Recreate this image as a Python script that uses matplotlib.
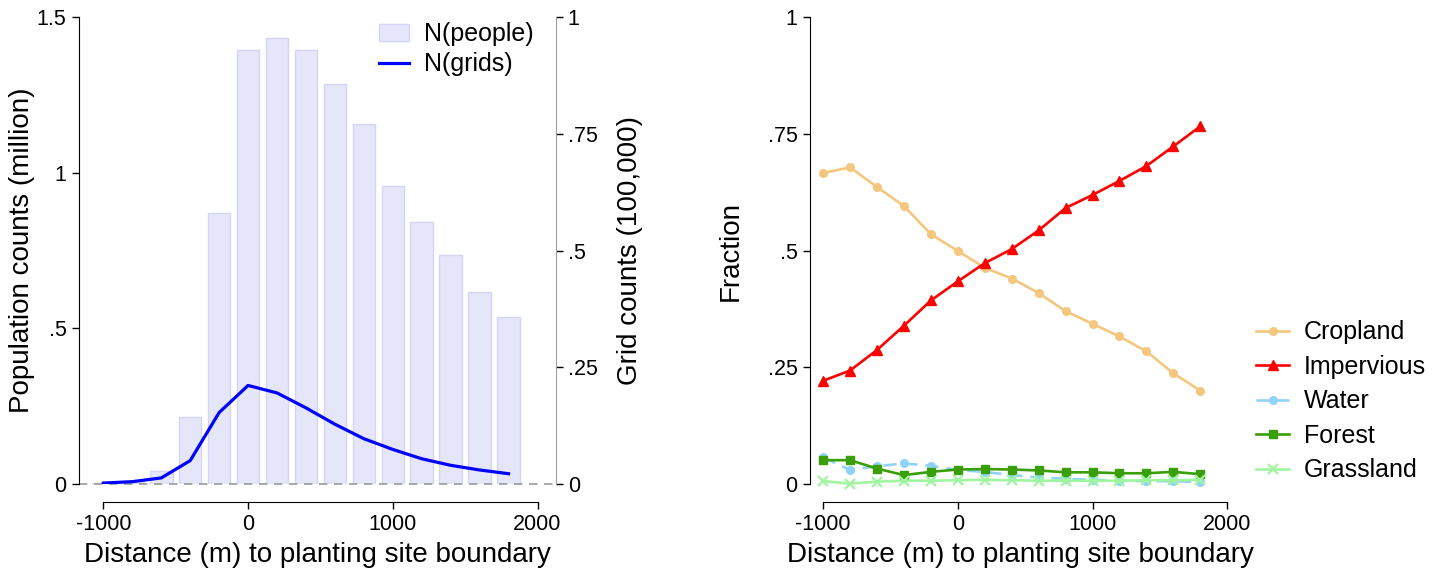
import matplotlib
matplotlib.use("Agg")
import matplotlib.pyplot as plt
from matplotlib.ticker import FixedLocator, FixedFormatter

plt.rcParams['font.family'] = ['Liberation Sans', 'DejaVu Sans']

# distance bins (m)
dist = [-1000, -800, -600, -400, -200, 0, 200, 400, 600, 800, 1000, 1200, 1400, 1600, 1800]

# left panel
people = [0.003, 0.008, 0.043, 0.215, 0.869, 1.395, 1.433, 1.395, 1.285, 1.157,
          0.958, 0.843, 0.734, 0.616, 0.536]            # million
grids = [0.002, 0.005, 0.013, 0.050, 0.153, 0.211, 0.195, 0.163, 0.128, 0.097,
         0.074, 0.054, 0.040, 0.030, 0.022]             # 100,000

# right panel (fractions)
cropland = [0.666, 0.678, 0.636, 0.595, 0.535, 0.499, 0.463, 0.440, 0.409, 0.370,
            0.343, 0.316, 0.284, 0.237, 0.200]
impervious = [0.221, 0.243, 0.287, 0.339, 0.393, 0.434, 0.473, 0.503, 0.543, 0.591,
              0.619, 0.649, 0.681, 0.723, 0.766]
water = [0.057, 0.030, 0.038, 0.044, 0.039, 0.030, 0.026, 0.019, 0.014, 0.011,
         0.009, 0.007, 0.006, 0.006, 0.004]
forest = [0.051, 0.051, 0.033, 0.019, 0.026, 0.031, 0.032, 0.031, 0.029, 0.025,
          0.025, 0.023, 0.023, 0.026, 0.021]
grassland = [0.006, 0.001, 0.005, 0.007, 0.007, 0.008, 0.009, 0.008, 0.007, 0.007,
             0.007, 0.007, 0.008, 0.008, 0.009]

xticks = [-1000, 0, 1000, 2000]
TICK = 15.5
LAB = 20
LEG = 18


def stata_axis(ax, yticks, ylabels, ylim):
    ax.set_ylim(*ylim)
    ax.spines['top'].set_visible(False)
    ax.spines['right'].set_visible(False)
    ax.spines['bottom'].set_position(('outward', 13))
    ax.spines['bottom'].set_bounds(xticks[0], xticks[-1])
    ax.spines['left'].set_bounds(ylim[0], ylim[1])
    ax.set_xticks(xticks)
    ax.set_xticklabels([str(t) for t in xticks])
    ax.yaxis.set_major_locator(FixedLocator(yticks))
    ax.yaxis.set_major_formatter(FixedFormatter(ylabels))
    ax.tick_params(labelsize=TICK, length=5, width=1, direction='out')
    ax.tick_params(axis='y', pad=4)
    ax.set_xlabel('Distance (m) to planting site boundary', fontsize=LAB, labelpad=5)


fig = plt.figure(figsize=(14.45, 5.69), dpi=100)

# ---- left: population and grids
ax1 = fig.add_axes([0.0547, 0.1494, 0.3301, 0.8207])
ax1.bar(dist, people, width=156, color='#e6e6fa', edgecolor='#d4d4f6', linewidth=1,
        label='N(people)', zorder=1)
ax1.axhline(0, color='#999999', linestyle=(0, (5, 4)), linewidth=1.2, clip_on=False, zorder=2)
ax1.set_xlim(-1168, 2128)
stata_axis(ax1, [0, 0.5, 1, 1.5], ['0', '.5', '1', '1.5'], (0, 1.5))
ax1.set_ylabel('Population counts (million)', fontsize=LAB, labelpad=1)

ax2 = ax1.twinx()
ax2.plot(dist, grids, color='#0000ff', linewidth=2.3, label='N(grids)', zorder=3)
ax2.set_ylim(0, 1)
ax2.spines['top'].set_visible(False)
ax2.spines['left'].set_visible(False)
ax2.spines['bottom'].set_visible(False)
ax2.spines['right'].set_color('#a0a0a0')
ax2.spines['right'].set_bounds(0, 1)
ax2.yaxis.set_major_locator(FixedLocator([0, 0.25, 0.5, 0.75, 1]))
ax2.yaxis.set_major_formatter(FixedFormatter(['0', '.25', '.5', '.75', '1']))
ax2.tick_params(labelsize=TICK, length=5, width=1)
ax2.set_ylabel('Grid counts (100,000)', fontsize=LAB, labelpad=14)

h1, l1 = ax1.get_legend_handles_labels()
h2, l2 = ax2.get_legend_handles_labels()
ax2.legend(h1 + h2, l1 + l2, loc='upper right', bbox_to_anchor=(1.0, 1.037),
           frameon=False, fontsize=LEG, handlelength=1.2, handletextpad=0.6,
           labelspacing=0.25)

# ---- right: land cover fractions
ax3 = fig.add_axes([0.5606, 0.1494, 0.2915, 0.8207])
lw, ms = 1.9, 5.5
ax3.plot(dist, cropland, color='#f5c67d', marker='o', linewidth=lw, markersize=ms, label='Cropland')
ax3.plot(dist, impervious, color='#ff0000', marker='^', linewidth=lw, markersize=ms + 1, label='Impervious')
ax3.plot(dist, water, color='#8fd3f8', marker='o', linestyle=(0, (5, 3)), linewidth=lw,
         markersize=ms, label='Water')
ax3.plot(dist, forest, color='#3a9e08', marker='s', linewidth=lw, markersize=ms, label='Forest')
ax3.plot(dist, grassland, color='#a0f5a0', marker='x', linewidth=lw, markersize=ms + 1,
         markeredgewidth=1.6, label='Grassland')
ax3.set_xlim(-1097, 2030)
stata_axis(ax3, [0, 0.25, 0.5, 0.75, 1], ['0', '.25', '.5', '.75', '1'], (0, 1))
for ln in ax3.lines:
    ln.set_clip_on(False)
ax3.set_ylabel('Fraction', fontsize=LAB, labelpad=17)
ax3.legend(loc='center left', bbox_to_anchor=(1.006, 0.177), frameon=False, fontsize=LEG,
           handlelength=1.3, handletextpad=0.6, labelspacing=0.42)

fig.savefig('out.png', dpi=100)
